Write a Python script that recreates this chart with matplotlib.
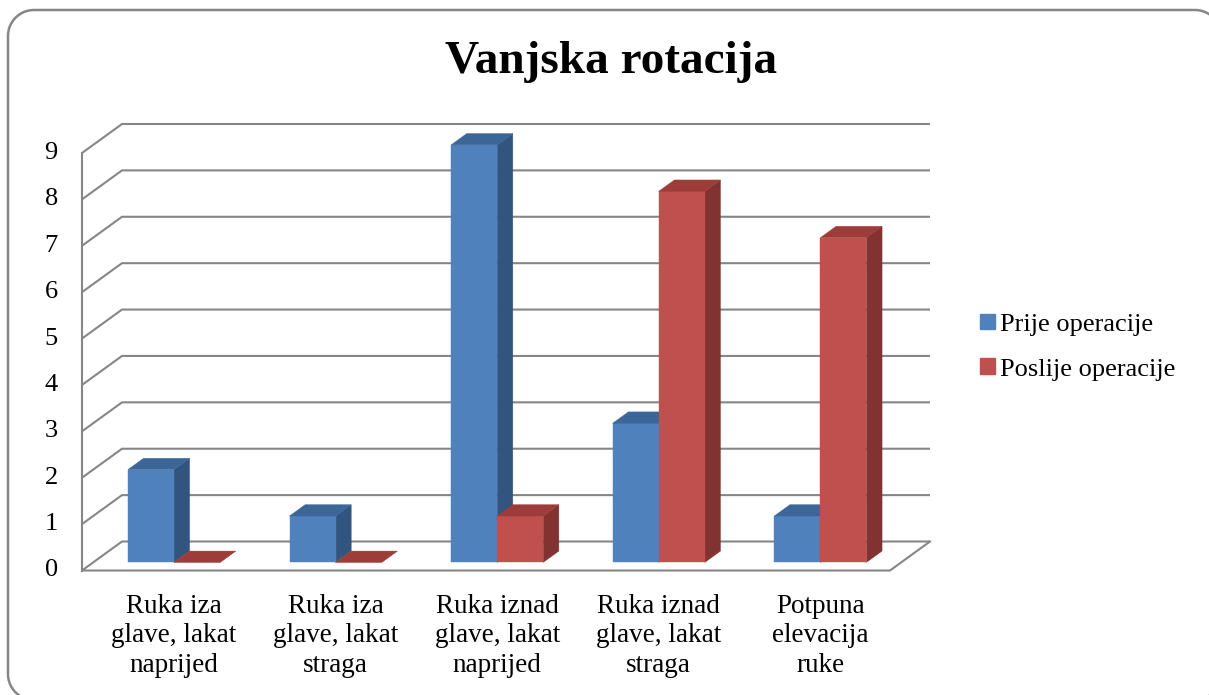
import matplotlib
matplotlib.use("Agg")
import numpy as np
import matplotlib.pyplot as plt
from matplotlib.patches import Patch

# ---------------------------------
# Data
# ---------------------------------
categories = [
    "Ruka iza\nglave, lakat\nnaprijed",
    "Ruka iza\nglave, lakat\nstraga",
    "Ruka iznad\nglave, lakat\nnaprijed",
    "Ruka iznad\nglave, lakat\nstraga",
    "Potpuna\nelevacija\nruke",
]
prije = [2, 1, 9, 3, 1]
poslije = [0, 0, 1, 8, 7]
series_names = ["Prije operacije", "Poslije operacije"]
y_ticks = list(range(0, 10))

# colours: front, top, side
blue = ("#4F81BD", "#3C6697", "#32557F")
red = ("#C0504D", "#9E3C3A", "#823230")
grid_col = "#868686"

W, H = 1209, 695
fig = plt.figure(figsize=(W / 100, H / 100), dpi=100)
plt.rcParams["font.family"] = ["Liberation Serif", "DejaVu Serif"]

# background overlay in pixel units (y down), for the rounded border
bg = fig.add_axes([0, 0, 1, 1], zorder=-1)
bg.set_xlim(0, W)
bg.set_ylim(H, 0)
bg.axis("off")
r = 26
left, top, right, bottom = 8, 10, 1221, 700
pts = []
for cx, cy, a0, a1 in [(right - r, bottom - r, 0, 90),
                       (left + r, bottom - r, 90, 180),
                       (left + r, top + r, 180, 270),
                       (right - r, top + r, 270, 360)]:
    a = np.radians(np.linspace(a0, a1, 20))
    pts += list(zip(cx + r * np.cos(a), cy + r * np.sin(a)))
pts.append(pts[0])
bx, by = zip(*pts)
bg.plot(bx, by, color="#868686", lw=1.8)

# axes: front plane, x 0..5 -> px 82..890, y 0..9 -> px 570.5..153
x_l, x_r = 82, 890
y_b, y_t = 570.5, 153
ax = fig.add_axes([x_l / W, (H - y_b) / H, (x_r - x_l) / W, (y_b - y_t) / H])
n = len(categories)
ymax = 9
ax.set_xlim(0, n)
ax.set_ylim(0, ymax)
ax.axis("off")

px_x = (x_r - x_l) / n
px_y = (y_b - y_t) / ymax
DX = 40 / px_x      # depth offset in data units
DY = 29 / px_y


def proj(x, y, z):
    return x + z * DX, y + z * DY


lw = 1.5
# back wall gridlines + left diagonals
for t in y_ticks:
    gx, gy = proj(0, t, 1)
    ex, ey = proj(n, t, 1)
    ax.plot([0, gx, ex], [t, gy, ey], color=grid_col, lw=lw, clip_on=False,
            solid_capstyle="butt", solid_joinstyle="miter")
    ax.text(-0.15, t, str(t), ha="right", va="center", fontsize=19)

# left front axis and floor
ax.plot([0, 0], [0, ymax], color=grid_col, lw=lw, clip_on=False)
fx, fy = proj(n, 0, 1)
ax.plot([0, n, fx], [0, 0, fy], color=grid_col, lw=lw, clip_on=False,
        solid_joinstyle="miter")

# bars
bw = 0.285
z0, z1 = 0.28, 0.67


def bar3d(x0, v, cols):
    x1 = x0 + bw
    front = [proj(x0, 0, z0), proj(x1, 0, z0), proj(x1, v, z0), proj(x0, v, z0)]
    top_f = [proj(x0, v, z0), proj(x1, v, z0), proj(x1, v, z1), proj(x0, v, z1)]
    side = [proj(x1, 0, z0), proj(x1, 0, z1), proj(x1, v, z1), proj(x1, v, z0)]
    for poly, c in ((side, cols[2]), (front, cols[0]), (top_f, cols[1])):
        xs, ys = zip(*poly)
        ax.fill(xs, ys, color=c, lw=0.3, ec=c, clip_on=False, zorder=3)


for i in range(n):
    c = i + 0.5
    bar3d(c - bw, prije[i], blue)
    bar3d(c, poslije[i], red)
    lx, _ = proj(c, 0, z0)
    ax.text(lx, -0.5, categories[i], ha="center", va="top", fontsize=19.5,
            linespacing=1.25)

# title
fig.text(611 / W, 1 - 62 / H, "Vanjska rotacija", ha="center", va="center",
         fontsize=34, fontweight="bold")

# legend
handles = [Patch(color=blue[0]), Patch(color=red[0])]
fig.legend(handles, series_names, loc="center left",
           bbox_to_anchor=(967 / W, 1 - 347 / H), frameon=False,
           fontsize=19, handlelength=0.55, handleheight=0.55,
           handletextpad=0.2, labelspacing=0.85, borderpad=0)

fig.savefig("out.png", dpi=100)
